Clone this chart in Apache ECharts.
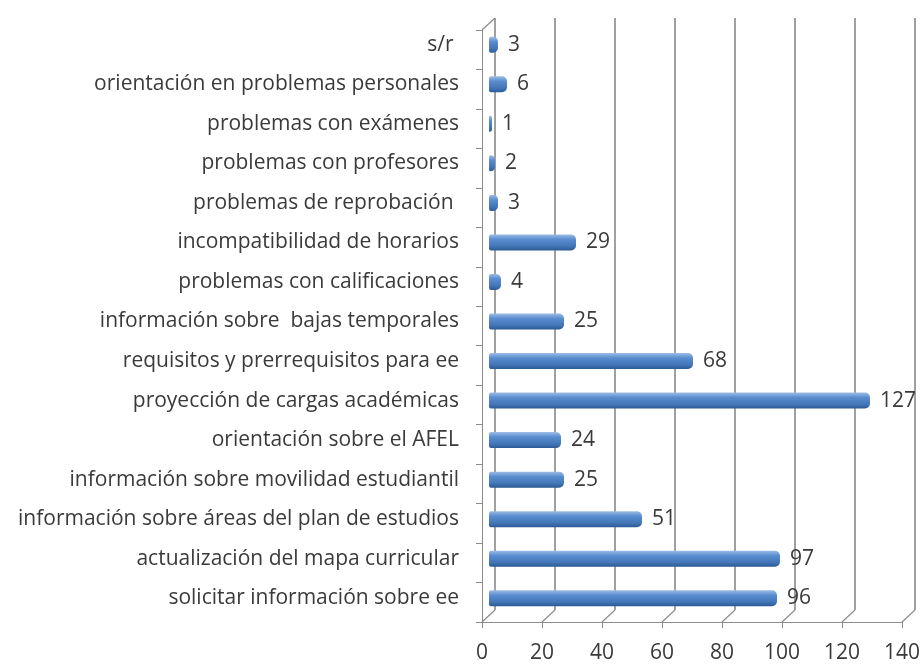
<!DOCTYPE html>
<html>
<head>
<meta charset="utf-8">
<script src="https://cdn.jsdelivr.net/npm/echarts@6/dist/echarts.min.js"></script>
<style>
  html, body { margin: 0; padding: 0; background: #fff; }
  #chart { width: 923px; height: 670px; }
</style>
</head>
<body>
<div id="chart"></div>
<script>
// categorías (de abajo hacia arriba)
const categorias = [
  'solicitar información sobre ee',
  'actualización del mapa curricular',
  'información sobre áreas del plan de estudios',
  'información sobre movilidad estudiantil',
  'orientación sobre el AFEL',
  'proyección de cargas académicas',
  'requisitos y prerrequisitos para ee',
  'información sobre  bajas temporales',
  'problemas con calificaciones',
  'incompatibilidad de horarios',
  'problemas de reprobación ',
  'problemas con profesores',
  'problemas con exámenes',
  'orientación en problemas personales',
  's/r '
];
const valores = [96, 97, 51, 25, 24, 127, 68, 25, 4, 29, 3, 2, 1, 6, 3];
const ticksX = [0, 20, 40, 60, 80, 100, 120, 140];

const fuente = '"Open Sans"';
const gris = '#8c8c8c';
const texto = '#3a3a3a';

const chart = echarts.init(document.getElementById('chart'));

const chartOpts = {
  backgroundColor: '#fff',
  animation: false,
  grid: [
    // frente (ejes)
    { left: 482, right: 21, top: 30, bottom: 48 },
    // pared del fondo
    { left: 495, right: 8, top: 18, bottom: 60 },
    // barras (plano medio)
    { left: 489, right: 14, top: 25, bottom: 52 }
  ],
  xAxis: [
    {
      gridIndex: 0, type: 'value', min: 0, max: 140, interval: 20,
      axisLine: { show: true, lineStyle: { color: gris } },
      axisTick: { show: true, length: 6, lineStyle: { color: gris } },
      axisLabel: { color: texto, fontFamily: fuente, fontSize: 21, margin: 21 },
      splitLine: { show: false }
    },
    {
      gridIndex: 1, type: 'value', min: 0, max: 140, interval: 20,
      axisLine: { show: false }, axisTick: { show: false }, axisLabel: { show: false },
      splitLine: { show: true, lineStyle: { color: '#a0a0a0', width: 2 } }
    },
    {
      gridIndex: 2, type: 'value', min: 0, max: 140, interval: 20,
      axisLine: { show: false }, axisTick: { show: false }, axisLabel: { show: false },
      splitLine: { show: false }
    }
  ],
  yAxis: [
    {
      gridIndex: 0, type: 'category', data: categorias,
      axisLine: { show: true, lineStyle: { color: gris } },
      axisTick: { show: true, length: 6, lineStyle: { color: gris } },
      axisLabel: { show: false }
    },
    {
      gridIndex: 1, type: 'category', data: categorias,
      axisLine: { show: false }, axisTick: { show: false }, axisLabel: { show: false }
    },
    {
      gridIndex: 2, type: 'category', data: categorias,
      axisLine: { show: false }, axisTick: { show: false },
      axisLabel: { color: texto, fontFamily: fuente, fontSize: 21, margin: 30 }
    }
  ],
  series: [
    {
      // líneas del piso en perspectiva
      type: 'custom',
      xAxisIndex: 0, yAxisIndex: 0,
      silent: true,
      data: ticksX,
      renderItem: function (params, api) {
        const cs = params.coordSys;
        const x = api.coord([api.value(0), 0])[0];
        const y = cs.y + cs.height;
        const hijos = [{
          type: 'line',
          shape: { x1: x, y1: y, x2: x + 13, y2: y - 12 },
          style: { stroke: gris, lineWidth: 1.2 }
        }];
        if (api.value(0) === 0) {
          hijos.push({
            type: 'line',
            shape: { x1: x, y1: cs.y, x2: x + 13, y2: cs.y - 12 },
            style: { stroke: gris, lineWidth: 1.2 }
          });
        }
        return { type: 'group', children: hijos };
      },
      encode: { x: 0 }
    },
    {
      type: 'bar',
      xAxisIndex: 2, yAxisIndex: 2,
      data: valores,
      barWidth: 16,
      itemStyle: {
        borderRadius: [2, 5, 5, 2],
        color: new echarts.graphic.LinearGradient(0, 0, 0, 1, [
          { offset: 0, color: '#9dbde6' },
          { offset: 0.3, color: '#5b8ed0' },
          { offset: 0.75, color: '#4275b6' },
          { offset: 1, color: '#2b5a94' }
        ])
      },
      label: {
        show: true, position: 'right', distance: 10,
        color: texto, fontFamily: fuente, fontSize: 21
      }
    }
  ]
};

chart.setOption(chartOpts);
</script>
</body>
</html>
